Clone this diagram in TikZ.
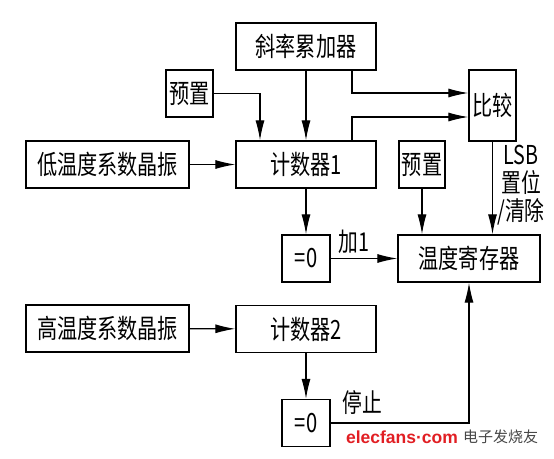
\documentclass[tikz,border=0pt]{standalone}
\usepackage{fontspec}
\newfontfamily\cjk[FakeStretch=0.76]{Noto Sans CJK SC}
\newfontfamily\cjkwide{Noto Sans CJK SC}
\newfontfamily\wmfont{Liberation Sans}
\definecolor{wmred}{RGB}{225, 30, 35}
\definecolor{wmgray}{RGB}{70, 70, 70}
\usetikzlibrary{arrows.meta, positioning, calc}

\begin{document}
\begin{tikzpicture}[x=1pt, y=-1pt,
  block/.style={draw, line width=1.4pt, minimum height=47pt, inner sep=0pt, font=\cjk\fontsize{26.5}{28}\selectfont},
  arr/.style={-{Latex[length=20pt, width=9pt]}, line width=1.1pt},
  lbl/.style={font=\cjk\fontsize{26}{28}\selectfont, inner sep=0pt}]
\useasboundingbox (0,0) rectangle (554,458);
\node[block, minimum width=140pt] (acc) at (306,46.5) {斜率累加器};
\node[block, minimum width=47pt] (pre1) at (189.5,93.5) {预置};
\node[block, minimum width=47pt, minimum height=71pt] (cmp) at (492.5,105.5) {比较};
\node[block, minimum width=163pt] (low) at (107.5,164.5) {低温度系数晶振};
\node[block, minimum width=140pt] (cnt1) at (306,164.5) {计数器1};
\node[block, minimum width=46pt] (pre2) at (422,164.5) {预置};
\node[block, minimum width=48pt] (zero1) at (306,258.5) {=0};
\node[block, minimum width=142pt] (reg) at (469,258.5) {温度寄存器};
\node[block, minimum width=163pt] (high) at (107.5,328.5) {高温度系数晶振};
\node[block, minimum width=140pt] (cnt2) at (306,329) {计数器2};
\node[block, minimum width=48pt] (zero2) at (306,423) {=0};

\draw[arr] (acc) -- (cnt1);
\draw[arr] (pre1.east) -| ([xshift=-46pt]cnt1.north);
\draw[arr] ([xshift=46pt]acc.south) |- ([yshift=12.5pt]cmp.west);
\draw[arr] ([xshift=46pt]cnt1.north) |- ([yshift=-11.5pt]cmp.west);
\draw[arr] (low) -- (cnt1);
\draw[arr] (cmp.south) -- (cmp.south |- reg.north);
\draw[arr] (pre2) -- (pre2 |- reg.north);
\draw[arr] (cnt1) -- (zero1);
\draw[arr] (zero1) -- (reg);
\draw[arr] (high) -- (cnt2);
\draw[arr] (cnt2) -- (zero2);
\draw[arr] (zero2.east) -| (reg.south);

\node[lbl, align=center] (lsb) at (521,185) {LSB\\置位\\/清除};
\node[lbl] (add) at (354,242) {加1};
\node[lbl] (stop) at (362,403) {停止};
\node[font=\wmfont\bfseries\fontsize{17.5}{18}\selectfont, text=wmred, inner sep=0pt] (wm) at (402,437) {elecfans·com};
\node[font=\cjkwide\fontsize{15}{15}\selectfont, text=wmgray, inner sep=0pt, anchor=west] (wmcn) at (463,437) {电子发烧友};
\end{tikzpicture}
\end{document}
